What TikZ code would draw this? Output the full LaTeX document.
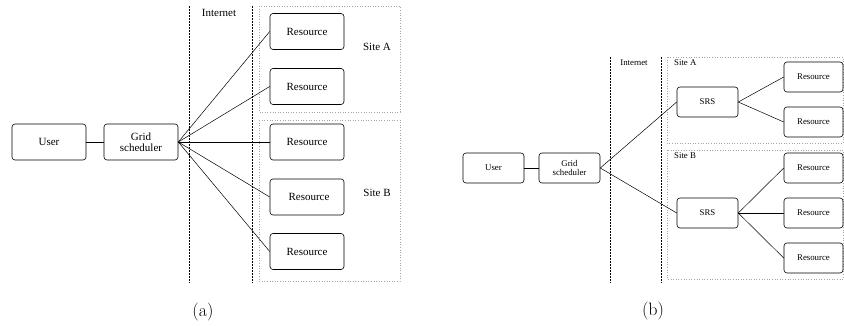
\documentclass[tikz,border=0pt]{standalone}
\usepackage{fontspec}
\newfontfamily\labelfont{Liberation Serif}
\begin{document}
\begin{tikzpicture}[x=1pt,y=-1pt,
  boxA/.style={draw, rounded corners=3pt, line width=0.6pt, inner sep=0pt,
    minimum width=74pt, minimum height=36pt, font=\labelfont\fontsize{11}{11}\selectfont, align=center},
  boxB/.style={draw, rounded corners=3pt, line width=0.6pt, inner sep=0pt,
    minimum width=61pt, minimum height=30pt, font=\labelfont\fontsize{8.8}{9.5}\selectfont, align=center},
  resB/.style={boxB, minimum width=59pt},
  link/.style={line width=0.5pt},
  border/.style={dashed, dash pattern=on 2pt off 1pt, line width=0.6pt},
  site/.style={draw=gray!70, dotted, line width=0.6pt},
  txtA/.style={font=\labelfont\fontsize{11}{11}\selectfont, inner sep=0pt},
  txtB/.style={font=\labelfont\fontsize{8.8}{9.5}\selectfont, inner sep=0pt},
  subcap/.style={font=\fontsize{18}{20}\selectfont, inner sep=0pt}]
\useasboundingbox (0,0) rectangle (844,326);

% ---------- (a) central grid scheduler ----------
\draw[site] (259,6) rectangle (400,112);
\draw[site] (259,120) rectangle (400,281);
\draw[border] (189,6) coordinate (ia1) -- (189,283) coordinate (ia2);
\draw[border] (252,6) coordinate (ib1) -- (252,283) coordinate (ib2);
\node[txtA] (netA) at (219,13) {Internet};
\node[txtA] (siteAa) at (377,47) {Site A};
\node[txtA] (siteBa) at (377,193) {Site B};

\node[boxA] (userA) at (49,142) {User};
\node[boxA] (gridA) at (141,142) {Grid\\scheduler};
\node[boxA] (ra1) at (307,31.5) {Resource};
\node[boxA] (ra2) at (307,86.5) {Resource};
\node[boxA] (ra3) at (307,142) {Resource};
\node[boxA] (ra4) at (307,197) {\hspace*{4pt}Resource};
\node[boxA] (ra5) at (307,251.5) {Resource};

\draw[link] (userA) -- (gridA);
\foreach \r in {ra1,ra2,ra3,ra4,ra5}
  \draw[link] (gridA.east) -- (\r.west);

\node[subcap] (capA) at (203,312) {(a)};

% ---------- (b) with site resource schedulers ----------
\draw[site] (667,57) rectangle (843,143);
\draw[site] (667,150) rectangle (843,279);
\draw[border] (610,57) coordinate (ja1) -- (610,283) coordinate (ja2);
\draw[border] (661,57) coordinate (jb1) -- (661,283) coordinate (jb2);
\node[txtB] (netB) at (634,63) {Internet};
\node[txtB, anchor=west] (siteAb) at (674,63) {Site A};
\node[txtB, anchor=west] (siteBb) at (674,156) {Site B};

\node[boxB] (userB) at (493.5,168) {User};
\node[boxB] (gridB) at (569.5,168) {Grid\\scheduler};
\node[boxB] (srsA) at (707.5,102) {SRS};
\node[boxB] (srsB) at (707.5,213) {SRS};
\node[resB] (rb1) at (813.5,77) {Resource};
\node[resB] (rb2) at (813.5,122) {Resource};
\node[resB] (rb3) at (813.5,168) {Resource};
\node[resB] (rb4) at (813.5,213) {Resource};
\node[resB] (rb5) at (813.5,258) {Resource};

\draw[link] (userB) -- (gridB);
\draw[link] (gridB.east) -- (srsA.west);
\draw[link] (gridB.east) -- (srsB.west);
\foreach \r in {rb1,rb2}
  \draw[link] (srsA.east) -- (\r.west);
\foreach \r in {rb3,rb4,rb5}
  \draw[link] (srsB.east) -- (\r.west);

\node[subcap] (capB) at (653,311) {(b)};
\end{tikzpicture}
\end{document}
